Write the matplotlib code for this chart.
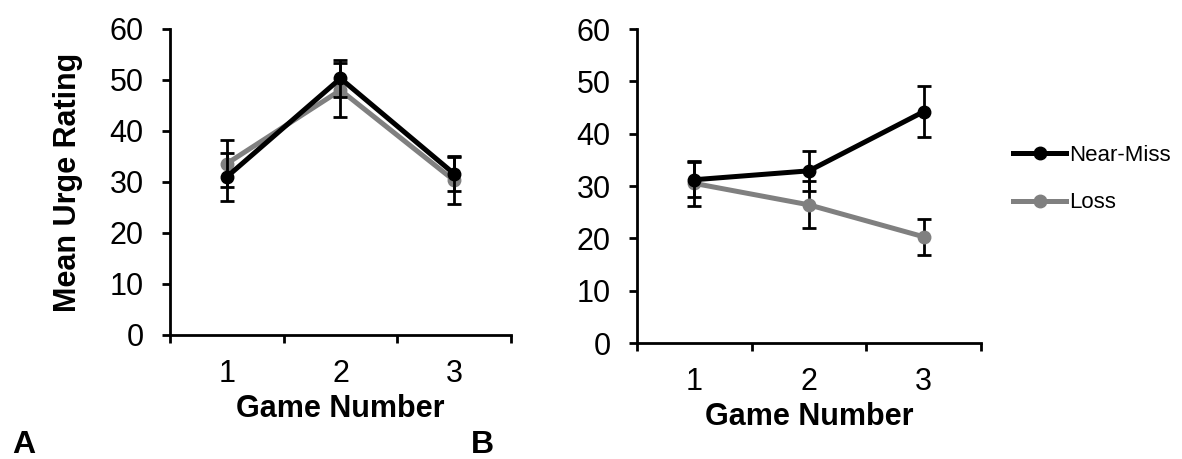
"""Urge ratings by game number, panels A and B."""

import matplotlib
matplotlib.use("Agg")
import matplotlib.pyplot as plt
from matplotlib.lines import Line2D

plt.rcParams["font.family"] = ["Liberation Sans", "DejaVu Sans"]

games = [1, 2, 3]
game_labels = ["1", "2", "3"]

# Panel A
a_near_miss = [31.0, 50.3, 31.6]
a_near_miss_err = [4.7, 3.6, 3.4]
a_loss = [33.6, 48.0, 30.3]
a_loss_err = [4.6, 5.3, 4.6]

# Panel B
b_near_miss = [31.2, 32.9, 44.2]
b_near_miss_err = [3.3, 3.8, 4.9]
b_loss = [30.5, 26.4, 20.3]
b_loss_err = [4.3, 4.5, 3.4]

NM_COLOR = "#000000"
LOSS_COLOR = "#808080"


def draw_panel(ax, near_miss, nm_err, loss, loss_err):
    ax.errorbar(games, near_miss, yerr=nm_err, color=NM_COLOR, ecolor="black",
                linewidth=3.6, marker="o", markersize=9, elinewidth=2,
                capsize=4.8, capthick=2, zorder=3)
    ax.errorbar(games, loss, yerr=loss_err, color=LOSS_COLOR, ecolor="black",
                linewidth=3.6, marker="o", markersize=9, elinewidth=2,
                capsize=4.8, capthick=2, zorder=2)

    ax.set_xlim(0.5, 3.5)
    ax.set_ylim(0, 60)
    ax.set_yticks(range(0, 61, 10))
    ax.set_xticks([0.5, 1.5, 2.5, 3.5])
    ax.set_xticklabels([])
    ax.set_xticks(games, minor=True)
    ax.set_xticklabels(game_labels, minor=True)
    ax.tick_params(axis="x", which="major", direction="out", length=6, width=2)
    ax.tick_params(axis="x", which="minor", length=0, labelsize=22, pad=17)
    ax.tick_params(axis="y", direction="out", length=6, width=2,
                   labelsize=22, pad=13)
    for side in ["top", "right"]:
        ax.spines[side].set_visible(False)
    for side in ["left", "bottom"]:
        ax.spines[side].set_linewidth(2)
    ax.set_xlabel("Game Number", fontsize=22, fontweight="bold", labelpad=4)


fig = plt.figure(figsize=(11.82, 4.59), dpi=100)
ax_a = fig.add_axes([0.1438, 0.2702, 0.2885, 0.6667])
ax_b = fig.add_axes([0.5389, 0.2527, 0.2910, 0.6841])

draw_panel(ax_a, a_near_miss, a_near_miss_err, a_loss, a_loss_err)
draw_panel(ax_b, b_near_miss, b_near_miss_err, b_loss, b_loss_err)

ax_a.set_ylabel("Mean Urge Rating", fontsize=22, fontweight="bold", labelpad=19)

handles = [
    Line2D([], [], color=NM_COLOR, linewidth=3.6, marker="o", markersize=9),
    Line2D([], [], color=LOSS_COLOR, linewidth=3.6, marker="o", markersize=9),
]
fig.legend(handles, ["Near-Miss", "Loss"], loc="center left",
           bbox_to_anchor=(0.840, 0.61), frameon=False, fontsize=16,
           handlelength=2.4, handletextpad=0.15, labelspacing=1.2)

fig.text(0.010, 0.012, "A", fontsize=23, fontweight="bold")
fig.text(0.398, 0.012, "B", fontsize=23, fontweight="bold")

fig.savefig("out.png", dpi=100)
plt.close(fig)
